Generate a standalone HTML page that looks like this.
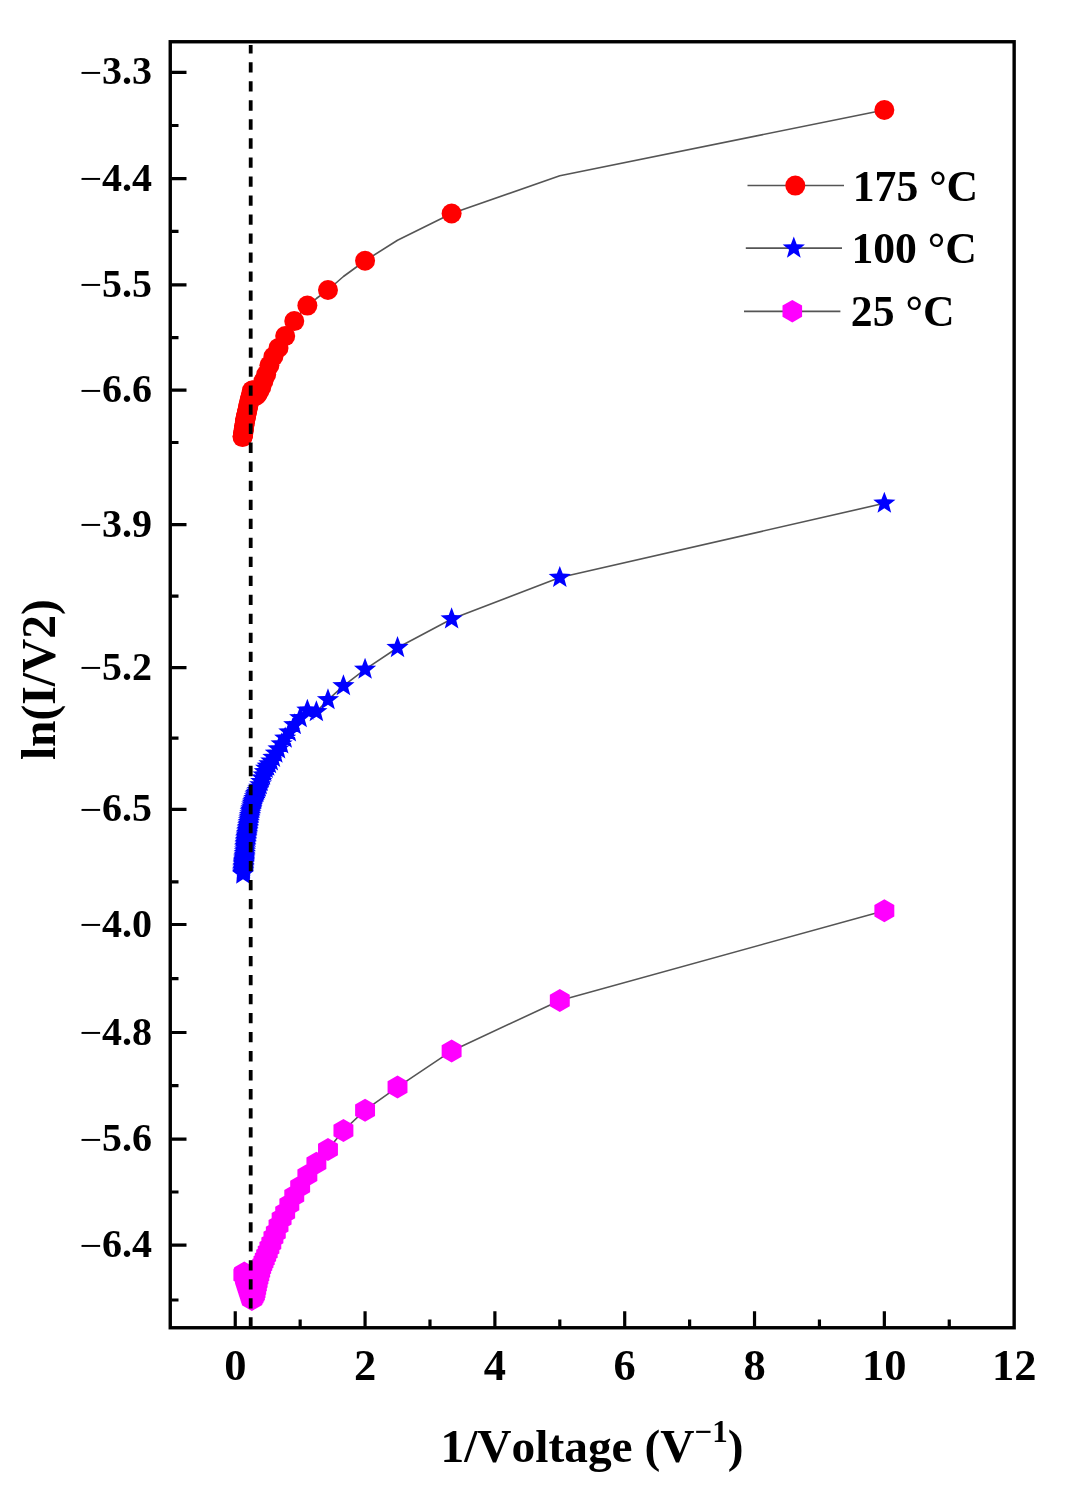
<!DOCTYPE html><html><head><meta charset="utf-8"><style>html,body{margin:0;padding:0;background:#fff;overflow:hidden;width:1072px;height:1489px}svg{display:block}text{font-family:"Liberation Serif","Times New Roman",serif;font-weight:bold;fill:#000;font-kerning:none}</style></head><body>
<svg width="1072" height="1489" viewBox="0 0 1072 1489">
<rect width="1072" height="1489" fill="#fff"/>
<polyline points="884.35,110.00 559.80,175.78 451.62,213.52 397.52,240.29 365.07,260.73 343.43,276.48 327.98,289.98 316.39,298.51 307.37,305.59 300.16,313.55 294.26,321.11 289.34,328.61 285.18,336.11 281.61,342.47 278.52,347.93 275.82,352.44 273.43,356.45 271.31,361.12 269.41,365.35 267.70,370.31 266.16,374.62 264.75,377.99 263.47,381.08 262.30,384.40 261.21,387.46 260.22,389.31 259.29,391.02 258.43,392.53 257.63,393.94 256.89,394.89 256.19,395.76 255.53,395.53 254.92,394.92 254.34,394.10 253.80,392.74 253.28,391.45 252.79,390.23 252.33,389.08 251.89,390.68 251.48,392.40 251.08,394.03 250.70,395.59 250.35,397.08 250.00,398.49 249.67,399.85 249.36,401.14 249.06,402.38 248.77,403.57 248.50,404.71 248.23,405.94 247.98,407.11 247.73,408.24 247.50,409.33 247.27,410.38 247.05,411.39 246.84,412.36 246.64,413.30 246.44,414.21 246.25,415.08 246.07,415.93 245.89,416.75 245.72,417.54 245.55,418.31 245.39,419.05 245.24,419.77 245.08,420.50 244.94,421.51 244.80,422.49 244.66,423.44 244.52,424.36 244.39,425.26 244.27,426.13 244.14,426.98 244.02,427.80 243.90,428.60 243.79,429.39 243.68,430.15 243.57,430.89 243.47,431.61 243.36,432.32 243.26,433.00 243.17,433.68 243.07,434.33 242.98,434.97 242.89,435.56 242.80,435.96 242.71,436.35 242.63,436.73 242.54,437.11" fill="none" stroke="#555555" stroke-width="1.6" stroke-linejoin="round"/>
<polyline points="884.35,503.30 559.80,577.56 451.62,618.99 397.52,647.73 365.07,669.39 343.43,685.92 327.98,699.86 316.39,711.81 307.37,710.33 300.16,717.93 294.26,724.91 289.34,732.18 285.18,738.24 281.61,744.08 278.52,749.02 275.82,753.26 273.43,757.52 271.31,761.14 269.41,763.94 267.70,766.32 266.16,768.48 264.75,771.83 263.47,775.06 262.30,778.16 261.21,781.64 260.22,784.86 259.29,787.25 258.43,789.03 257.63,790.69 256.89,792.23 256.19,793.68 255.53,795.10 254.92,796.96 254.34,798.72 253.80,800.38 253.28,801.94 252.79,803.42 252.33,805.23 251.89,807.04 251.48,808.76 251.08,810.40 250.70,811.97 250.35,813.78 250.00,815.65 249.67,817.43 249.36,819.14 249.06,820.77 248.77,822.53 248.50,824.26 248.23,825.93 247.98,827.53 247.73,829.07 247.50,830.59 247.27,832.11 247.05,833.57 246.84,834.98 246.64,836.34 246.44,837.65 246.25,839.02 246.07,840.62 245.89,842.16 245.72,843.65 245.55,845.10 245.39,846.50 245.24,848.10 245.08,850.00 244.94,851.85 244.80,853.64 244.66,855.38 244.52,856.85 244.39,858.11 244.27,859.34 244.14,860.53 244.02,861.69 243.90,862.82 243.79,863.92 243.68,865.07 243.57,866.54 243.47,867.97 243.36,869.36 243.26,870.72 243.17,872.05 243.07,873.34 242.98,874.30" fill="none" stroke="#555555" stroke-width="1.6" stroke-linejoin="round"/>
<polyline points="884.35,910.70 559.80,1000.47 451.62,1050.95 397.52,1087.08 365.07,1110.19 343.43,1130.50 327.98,1149.58 316.39,1163.20 307.37,1175.24 300.16,1186.54 294.26,1195.87 289.34,1204.41 285.18,1212.42 281.61,1218.87 278.52,1225.65 275.82,1232.47 273.43,1237.43 271.31,1243.20 269.41,1247.78 267.70,1251.88 266.16,1255.59 264.75,1258.96 263.47,1262.03 262.30,1264.85 261.21,1267.71 260.22,1271.53 259.29,1275.06 258.43,1278.35 257.63,1281.77 256.89,1285.37 256.19,1288.74 255.53,1291.90 254.92,1294.34 254.34,1295.42 253.80,1296.44 253.28,1297.40 252.79,1298.32 252.33,1299.18 251.89,1299.47 251.48,1298.17 251.08,1296.94 250.70,1295.77 250.35,1294.65 250.00,1293.58 249.67,1292.56 249.36,1291.58 249.06,1290.65 248.77,1289.75 248.50,1288.89 248.23,1288.07 247.98,1287.27 247.73,1286.51 247.50,1285.78 247.27,1285.07 247.05,1284.39 246.84,1283.73 246.64,1283.10 246.44,1282.49 246.25,1281.90 246.07,1281.33 245.89,1280.77 245.72,1280.24 245.55,1279.72 245.39,1279.22 245.24,1278.74 245.08,1278.26 244.94,1277.56 244.80,1276.54 244.66,1275.55 244.52,1274.59 244.39,1273.66 244.27,1273.08 244.14,1273.35 244.02,1273.62 243.90,1273.88 243.79,1274.13 243.68,1274.38 243.57,1274.62 243.47,1274.85 243.36,1275.00" fill="none" stroke="#555555" stroke-width="1.6" stroke-linejoin="round"/>
<g fill="#ff0000"><circle cx="884.35" cy="110.00" r="10"/><circle cx="451.62" cy="213.52" r="10"/><circle cx="365.07" cy="260.73" r="10"/><circle cx="327.98" cy="289.98" r="10"/><circle cx="307.37" cy="305.59" r="10"/><circle cx="294.26" cy="321.11" r="10"/><circle cx="285.18" cy="336.11" r="10"/><circle cx="278.52" cy="347.93" r="10"/><circle cx="273.43" cy="356.45" r="10"/><circle cx="269.41" cy="365.35" r="10"/><circle cx="266.16" cy="374.62" r="10"/><circle cx="263.47" cy="381.08" r="10"/><circle cx="261.21" cy="387.46" r="10"/><circle cx="259.29" cy="391.02" r="10"/><circle cx="257.63" cy="393.94" r="10"/><circle cx="256.19" cy="395.76" r="10"/><circle cx="254.92" cy="394.92" r="10"/><circle cx="253.80" cy="392.74" r="10"/><circle cx="252.79" cy="390.23" r="10"/><circle cx="251.89" cy="390.68" r="10"/><circle cx="251.08" cy="394.03" r="10"/><circle cx="250.35" cy="397.08" r="10"/><circle cx="249.67" cy="399.85" r="10"/><circle cx="249.06" cy="402.38" r="10"/><circle cx="248.50" cy="404.71" r="10"/><circle cx="247.98" cy="407.11" r="10"/><circle cx="247.50" cy="409.33" r="10"/><circle cx="247.05" cy="411.39" r="10"/><circle cx="246.64" cy="413.30" r="10"/><circle cx="246.25" cy="415.08" r="10"/><circle cx="245.89" cy="416.75" r="10"/><circle cx="245.55" cy="418.31" r="10"/><circle cx="245.24" cy="419.77" r="10"/><circle cx="244.94" cy="421.51" r="10"/><circle cx="244.66" cy="423.44" r="10"/><circle cx="244.39" cy="425.26" r="10"/><circle cx="244.14" cy="426.98" r="10"/><circle cx="243.90" cy="428.60" r="10"/><circle cx="243.68" cy="430.15" r="10"/><circle cx="243.47" cy="431.61" r="10"/><circle cx="243.26" cy="433.00" r="10"/><circle cx="243.07" cy="434.33" r="10"/><circle cx="242.89" cy="435.56" r="10"/><circle cx="242.71" cy="436.35" r="10"/><circle cx="242.54" cy="437.11" r="10"/></g>
<path fill="#0000ff" d="M884.35,491.64L887.23,499.34L895.44,499.70L889.01,504.81L891.20,512.73L884.35,508.20L877.50,512.73L879.69,504.81L873.26,499.70L881.47,499.34ZM559.80,565.90L562.68,573.60L570.89,573.96L564.46,579.08L566.65,587.00L559.80,582.46L552.95,587.00L555.14,579.08L548.71,573.96L556.92,573.60ZM451.62,607.33L454.50,615.02L462.71,615.38L456.27,620.50L458.47,628.42L451.62,623.88L444.76,628.42L446.96,620.50L440.53,615.38L448.74,615.02ZM397.52,636.07L400.40,643.76L408.61,644.12L402.18,649.24L404.38,657.16L397.52,652.62L390.67,657.16L392.87,649.24L386.44,644.12L394.65,643.76ZM365.07,657.73L367.95,665.42L376.16,665.78L369.73,670.90L371.92,678.82L365.07,674.28L358.22,678.82L360.41,670.90L353.98,665.78L362.19,665.42ZM343.43,674.26L346.31,681.96L354.52,682.32L348.09,687.43L350.29,695.35L343.43,690.82L336.58,695.35L338.78,687.43L332.34,682.32L340.55,681.96ZM327.98,688.20L330.86,695.90L339.07,696.25L332.64,701.37L334.83,709.29L327.98,704.76L321.12,709.29L323.32,701.37L316.89,696.25L325.10,695.90ZM316.39,700.15L319.27,707.84L327.48,708.20L321.05,713.32L323.24,721.24L316.39,716.70L309.53,721.24L311.73,713.32L305.30,708.20L313.51,707.84ZM307.37,698.67L310.25,706.37L318.46,706.73L312.03,711.85L314.23,719.77L307.37,715.23L300.52,719.77L302.71,711.85L296.28,706.73L304.49,706.37ZM300.16,706.27L303.04,713.97L311.25,714.33L304.82,719.45L307.01,727.37L300.16,722.83L293.31,727.37L295.50,719.45L289.07,714.33L297.28,713.97ZM294.26,713.25L297.14,720.95L305.35,721.31L298.92,726.43L301.11,734.34L294.26,729.81L287.41,734.34L289.60,726.43L283.17,721.31L291.38,720.95ZM289.34,720.52L292.22,728.22L300.43,728.58L294.00,733.70L296.20,741.62L289.34,737.08L282.49,741.62L284.68,733.70L278.25,728.58L286.46,728.22ZM285.18,726.58L288.06,734.28L296.27,734.63L289.84,739.75L292.03,747.67L285.18,743.13L278.33,747.67L280.52,739.75L274.09,734.63L282.30,734.28ZM281.61,732.42L284.49,740.12L292.70,740.48L286.27,745.60L288.47,753.51L281.61,748.98L274.76,753.51L276.96,745.60L270.52,740.48L278.74,740.12ZM278.52,737.36L281.40,745.06L289.61,745.42L283.18,750.53L285.38,758.45L278.52,753.92L271.67,758.45L273.87,750.53L267.43,745.42L275.64,745.06ZM275.82,741.60L278.70,749.30L286.91,749.65L280.48,754.77L282.67,762.69L275.82,758.15L268.97,762.69L271.16,754.77L264.73,749.65L272.94,749.30ZM273.43,745.86L276.31,753.56L284.52,753.92L278.09,759.03L280.29,766.95L273.43,762.42L266.58,766.95L268.77,759.03L262.34,753.92L270.55,753.56ZM271.31,749.48L274.19,757.18L282.40,757.54L275.97,762.65L278.16,770.57L271.31,766.04L264.46,770.57L266.65,762.65L260.22,757.54L268.43,757.18ZM269.41,752.28L272.29,759.97L280.50,760.33L274.07,765.45L276.27,773.37L269.41,768.83L262.56,773.37L264.76,765.45L258.32,760.33L266.53,759.97ZM267.70,754.66L270.58,762.36L278.79,762.72L272.36,767.83L274.56,775.75L267.70,771.22L260.85,775.75L263.05,767.83L256.62,762.72L264.83,762.36ZM266.16,756.82L269.04,764.52L277.25,764.87L270.82,769.99L273.01,777.91L266.16,773.37L259.31,777.91L261.50,769.99L255.07,764.87L263.28,764.52ZM264.75,760.17L267.63,767.87L275.84,768.23L269.41,773.34L271.61,781.26L264.75,776.73L257.90,781.26L260.10,773.34L253.67,768.23L261.88,767.87ZM263.47,763.40L266.35,771.09L274.56,771.45L268.13,776.57L270.33,784.49L263.47,779.95L256.62,784.49L258.81,776.57L252.38,771.45L260.59,771.09ZM262.30,766.50L265.17,774.20L273.39,774.55L266.95,779.67L269.15,787.59L262.30,783.06L255.44,787.59L257.64,779.67L251.21,774.55L259.42,774.20ZM261.21,769.98L264.09,777.68L272.30,778.04L265.87,783.16L268.07,791.08L261.21,786.54L254.36,791.08L256.56,783.16L250.12,778.04L258.34,777.68ZM260.22,773.20L263.09,780.90L271.30,781.26L264.87,786.37L267.07,794.29L260.22,789.76L253.36,794.29L255.56,786.37L249.13,781.26L257.34,780.90ZM259.29,775.59L262.17,783.29L270.38,783.65L263.95,788.77L266.14,796.69L259.29,792.15L252.44,796.69L254.63,788.77L248.20,783.65L256.41,783.29ZM258.43,777.37L261.31,785.07L269.52,785.43L263.09,790.55L265.29,798.47L258.43,793.93L251.58,798.47L253.77,790.55L247.34,785.43L255.55,785.07ZM257.63,779.03L260.51,786.73L268.72,787.09L262.29,792.20L264.49,800.12L257.63,795.59L250.78,800.12L252.98,792.20L246.54,787.09L254.75,786.73ZM256.89,780.57L259.77,788.27L267.98,788.63L261.54,793.75L263.74,801.67L256.89,797.13L250.03,801.67L252.23,793.75L245.80,788.63L254.01,788.27ZM256.19,782.02L259.07,789.72L267.28,790.08L260.85,795.19L263.04,803.11L256.19,798.58L249.34,803.11L251.53,795.19L245.10,790.08L253.31,789.72ZM255.53,783.44L258.41,791.14L266.62,791.50L260.19,796.61L262.39,804.53L255.53,800.00L248.68,804.53L250.88,796.61L244.45,791.50L252.66,791.14ZM254.92,785.30L257.80,793.00L266.01,793.36L259.58,798.48L261.77,806.40L254.92,801.86L248.07,806.40L250.26,798.48L243.83,793.36L252.04,793.00ZM254.34,787.06L257.22,794.76L265.43,795.12L259.00,800.23L261.19,808.15L254.34,803.62L247.49,808.15L249.68,800.23L243.25,795.12L251.46,794.76ZM253.80,788.72L256.67,796.41L264.89,796.77L258.45,801.89L260.65,809.81L253.80,805.27L246.94,809.81L249.14,801.89L242.71,796.77L250.92,796.41ZM253.28,790.28L256.16,797.98L264.37,798.34L257.94,803.45L260.13,811.37L253.28,806.84L246.43,811.37L248.62,803.45L242.19,798.34L250.40,797.98ZM252.79,791.76L255.67,799.46L263.88,799.81L257.45,804.93L259.65,812.85L252.79,808.31L245.94,812.85L248.14,804.93L241.70,799.81L249.91,799.46ZM252.33,793.57L255.21,801.26L263.42,801.62L256.99,806.74L259.19,814.66L252.33,810.12L245.48,814.66L247.67,806.74L241.24,801.62L249.45,801.26ZM251.89,795.38L254.77,803.08L262.98,803.44L256.55,808.55L258.75,816.47L251.89,811.94L245.04,816.47L247.24,808.55L240.80,803.44L249.02,803.08ZM251.48,797.10L254.36,804.80L262.57,805.16L256.14,810.28L258.33,818.20L251.48,813.66L244.62,818.20L246.82,810.28L240.39,805.16L248.60,804.80ZM251.08,798.74L253.96,806.44L262.17,806.80L255.74,811.92L257.94,819.84L251.08,815.30L244.23,819.84L246.42,811.92L239.99,806.80L248.20,806.44ZM250.70,800.31L253.58,808.00L261.79,808.36L255.36,813.48L257.56,821.40L250.70,816.86L243.85,821.40L246.05,813.48L239.62,808.36L247.83,808.00ZM250.35,802.12L253.22,809.82L261.43,810.18L255.00,815.30L257.20,823.22L250.35,818.68L243.49,823.22L245.69,815.30L239.26,810.18L247.47,809.82ZM250.00,803.99L252.88,811.69L261.09,812.05L254.66,817.16L256.86,825.08L250.00,820.55L243.15,825.08L245.34,817.16L238.91,812.05L247.12,811.69ZM249.67,805.77L252.55,813.47L260.76,813.83L254.33,818.95L256.53,826.87L249.67,822.33L242.82,826.87L245.02,818.95L238.59,813.83L246.80,813.47ZM249.36,807.48L252.24,815.18L260.45,815.53L254.02,820.65L256.21,828.57L249.36,824.03L242.51,828.57L244.70,820.65L238.27,815.53L246.48,815.18ZM249.06,809.11L251.94,816.81L260.15,817.17L253.72,822.28L255.91,830.20L249.06,825.67L242.21,830.20L244.40,822.28L237.97,817.17L246.18,816.81ZM248.77,810.87L251.65,818.57L259.86,818.92L253.43,824.04L255.63,831.96L248.77,827.42L241.92,831.96L244.12,824.04L237.68,818.92L245.89,818.57ZM248.50,812.60L251.38,820.30L259.59,820.66L253.15,825.78L255.35,833.70L248.50,829.16L241.64,833.70L243.84,825.78L237.41,820.66L245.62,820.30ZM248.23,814.27L251.11,821.97L259.32,822.32L252.89,827.44L255.09,835.36L248.23,830.82L241.38,835.36L243.57,827.44L237.14,822.32L245.35,821.97ZM247.98,815.87L250.86,823.57L259.07,823.92L252.63,829.04L254.83,836.96L247.98,832.42L241.12,836.96L243.32,829.04L236.89,823.92L245.10,823.57ZM247.73,817.41L250.61,825.10L258.82,825.46L252.39,830.58L254.59,838.50L247.73,833.96L240.88,838.50L243.08,830.58L236.64,825.46L244.85,825.10ZM247.50,818.93L250.38,826.63L258.59,826.99L252.15,832.10L254.35,840.02L247.50,835.49L240.64,840.02L242.84,832.10L236.41,826.99L244.62,826.63ZM247.27,820.45L250.15,828.14L258.36,828.50L251.93,833.62L254.12,841.54L247.27,837.00L240.42,841.54L242.61,833.62L236.18,828.50L244.39,828.14ZM247.05,821.91L249.93,829.61L258.14,829.97L251.71,835.08L253.91,843.00L247.05,838.47L240.20,843.00L242.39,835.08L235.96,829.97L244.17,829.61ZM246.84,823.32L249.72,831.02L257.93,831.38L251.50,836.49L253.69,844.41L246.84,839.88L239.99,844.41L242.18,836.49L235.75,831.38L243.96,831.02ZM246.64,824.68L249.52,832.38L257.73,832.74L251.30,837.85L253.49,845.77L246.64,841.24L239.78,845.77L241.98,837.85L235.55,832.74L243.76,832.38ZM246.44,825.99L249.32,833.69L257.53,834.05L251.10,839.17L253.29,847.09L246.44,842.55L239.59,847.09L241.78,839.17L235.35,834.05L243.56,833.69ZM246.25,827.36L249.13,835.06L257.34,835.42L250.91,840.53L253.11,848.45L246.25,843.92L239.40,848.45L241.59,840.53L235.16,835.42L243.37,835.06ZM246.07,828.96L248.95,836.65L257.16,837.01L250.73,842.13L252.92,850.05L246.07,845.51L239.21,850.05L241.41,842.13L234.98,837.01L243.19,836.65ZM245.89,830.50L248.77,838.20L256.98,838.56L250.55,843.67L252.74,851.59L245.89,847.06L239.04,851.59L241.23,843.67L234.80,838.56L243.01,838.20ZM245.72,831.99L248.60,839.69L256.81,840.05L250.38,845.16L252.57,853.08L245.72,848.55L238.87,853.08L241.06,845.16L234.63,840.05L242.84,839.69ZM245.55,833.44L248.43,841.14L256.64,841.49L250.21,846.61L252.41,854.53L245.55,849.99L238.70,854.53L240.90,846.61L234.46,841.49L242.67,841.14ZM245.39,834.84L248.27,842.54L256.48,842.89L250.05,848.01L252.25,855.93L245.39,851.40L238.54,855.93L240.73,848.01L234.30,842.89L242.51,842.54ZM245.24,836.44L248.11,844.14L256.33,844.50L249.89,849.62L252.09,857.54L245.24,853.00L238.38,857.54L240.58,849.62L234.15,844.50L242.36,844.14ZM245.08,838.34L247.96,846.04L256.17,846.40L249.74,851.52L251.94,859.44L245.08,854.90L238.23,859.44L240.43,851.52L234.00,846.40L242.21,846.04ZM244.94,840.19L247.82,847.89L256.03,848.25L249.60,853.36L251.79,861.28L244.94,856.75L238.08,861.28L240.28,853.36L233.85,848.25L242.06,847.89ZM244.80,841.98L247.67,849.68L255.88,850.04L249.45,855.15L251.65,863.07L244.80,858.54L237.94,863.07L240.14,855.15L233.71,850.04L241.92,849.68ZM244.66,843.72L247.54,851.42L255.75,851.78L249.31,856.89L251.51,864.81L244.66,860.28L237.80,864.81L240.00,856.89L233.57,851.78L241.78,851.42ZM244.52,845.19L247.40,852.88L255.61,853.24L249.18,858.36L251.38,866.28L244.52,861.74L237.67,866.28L239.87,858.36L233.43,853.24L241.64,852.88ZM244.39,846.45L247.27,854.15L255.48,854.51L249.05,859.62L251.25,867.54L244.39,863.01L237.54,867.54L239.73,859.62L233.30,854.51L241.51,854.15ZM244.27,847.68L247.14,855.37L255.35,855.73L248.92,860.85L251.12,868.77L244.27,864.23L237.41,868.77L239.61,860.85L233.18,855.73L241.39,855.37ZM244.14,848.87L247.02,856.57L255.23,856.93L248.80,862.04L251.00,869.96L244.14,865.43L237.29,869.96L239.48,862.04L233.05,856.93L241.26,856.57ZM244.02,850.03L246.90,857.73L255.11,858.09L248.68,863.20L250.88,871.12L244.02,866.59L237.17,871.12L239.36,863.20L232.93,858.09L241.14,857.73ZM243.90,851.16L246.78,858.86L254.99,859.22L248.56,864.33L250.76,872.25L243.90,867.72L237.05,872.25L239.25,864.33L232.82,859.22L241.03,858.86ZM243.79,852.26L246.67,859.96L254.88,860.32L248.45,865.44L250.64,873.36L243.79,868.82L236.94,873.36L239.13,865.44L232.70,860.32L240.91,859.96ZM243.68,853.41L246.56,861.11L254.77,861.47L248.34,866.59L250.53,874.51L243.68,869.97L236.83,874.51L239.02,866.59L232.59,861.47L240.80,861.11ZM243.57,854.88L246.45,862.58L254.66,862.94L248.23,868.05L250.43,875.97L243.57,871.44L236.72,875.97L238.91,868.05L232.48,862.94L240.69,862.58ZM243.47,856.31L246.34,864.01L254.56,864.37L248.12,869.48L250.32,877.40L243.47,872.87L236.61,877.40L238.81,869.48L232.38,864.37L240.59,864.01ZM243.36,857.70L246.24,865.40L254.45,865.76L248.02,870.88L250.22,878.80L243.36,874.26L236.51,878.80L238.71,870.88L232.27,865.76L240.49,865.40ZM243.26,859.06L246.14,866.76L254.35,867.12L247.92,872.24L250.12,880.16L243.26,875.62L236.41,880.16L238.61,872.24L232.17,867.12L240.39,866.76ZM243.17,860.39L246.04,868.09L254.26,868.45L247.82,873.56L250.02,881.48L243.17,876.95L236.31,881.48L238.51,873.56L232.08,868.45L240.29,868.09ZM243.07,861.68L245.95,869.38L254.16,869.74L247.73,874.86L249.92,882.78L243.07,878.24L236.22,882.78L238.41,874.86L231.98,869.74L240.19,869.38ZM242.98,862.64L245.86,870.34L254.07,870.70L247.63,875.81L249.83,883.73L242.98,879.20L236.12,883.73L238.32,875.81L231.89,870.70L240.10,870.34Z"/>
<path fill="#ff00ff" d="M884.35,899.20L894.31,904.95L894.31,916.45L884.35,922.20L874.39,916.45L874.39,904.95ZM559.80,988.97L569.76,994.72L569.76,1006.22L559.80,1011.97L549.84,1006.22L549.84,994.72ZM451.62,1039.45L461.58,1045.20L461.58,1056.70L451.62,1062.45L441.66,1056.70L441.66,1045.20ZM397.52,1075.58L407.48,1081.33L407.48,1092.83L397.52,1098.58L387.57,1092.83L387.57,1081.33ZM365.07,1098.69L375.03,1104.44L375.03,1115.94L365.07,1121.69L355.11,1115.94L355.11,1104.44ZM343.43,1119.00L353.39,1124.75L353.39,1136.25L343.43,1142.00L333.47,1136.25L333.47,1124.75ZM327.98,1138.08L337.94,1143.83L337.94,1155.33L327.98,1161.08L318.02,1155.33L318.02,1143.83ZM316.39,1151.70L326.35,1157.45L326.35,1168.95L316.39,1174.70L306.43,1168.95L306.43,1157.45ZM307.37,1163.74L317.33,1169.49L317.33,1180.99L307.37,1186.74L297.41,1180.99L297.41,1169.49ZM300.16,1175.04L310.12,1180.79L310.12,1192.29L300.16,1198.04L290.20,1192.29L290.20,1180.79ZM294.26,1184.37L304.22,1190.12L304.22,1201.62L294.26,1207.37L284.30,1201.62L284.30,1190.12ZM289.34,1192.91L299.30,1198.66L299.30,1210.16L289.34,1215.91L279.38,1210.16L279.38,1198.66ZM285.18,1200.92L295.14,1206.67L295.14,1218.17L285.18,1223.92L275.22,1218.17L275.22,1206.67ZM281.61,1207.37L291.57,1213.12L291.57,1224.62L281.61,1230.37L271.65,1224.62L271.65,1213.12ZM278.52,1214.15L288.48,1219.90L288.48,1231.40L278.52,1237.15L268.56,1231.40L268.56,1219.90ZM275.82,1220.97L285.78,1226.72L285.78,1238.22L275.82,1243.97L265.86,1238.22L265.86,1226.72ZM273.43,1225.93L283.39,1231.68L283.39,1243.18L273.43,1248.93L263.47,1243.18L263.47,1231.68ZM271.31,1231.70L281.27,1237.45L281.27,1248.95L271.31,1254.70L261.35,1248.95L261.35,1237.45ZM269.41,1236.28L279.37,1242.03L279.37,1253.53L269.41,1259.28L259.45,1253.53L259.45,1242.03ZM267.70,1240.38L277.66,1246.13L277.66,1257.63L267.70,1263.38L257.75,1257.63L257.75,1246.13ZM266.16,1244.09L276.12,1249.84L276.12,1261.34L266.16,1267.09L256.20,1261.34L256.20,1249.84ZM264.75,1247.46L274.71,1253.21L274.71,1264.71L264.75,1270.46L254.80,1264.71L254.80,1253.21ZM263.47,1250.53L273.43,1256.28L273.43,1267.78L263.47,1273.53L253.51,1267.78L253.51,1256.28ZM262.30,1253.35L272.26,1259.10L272.26,1270.60L262.30,1276.35L252.34,1270.60L252.34,1259.10ZM261.21,1256.21L271.17,1261.96L271.17,1273.46L261.21,1279.21L251.25,1273.46L251.25,1261.96ZM260.22,1260.03L270.17,1265.78L270.17,1277.28L260.22,1283.03L250.26,1277.28L250.26,1265.78ZM259.29,1263.56L269.25,1269.31L269.25,1280.81L259.29,1286.56L249.33,1280.81L249.33,1269.31ZM258.43,1266.85L268.39,1272.60L268.39,1284.10L258.43,1289.85L248.47,1284.10L248.47,1272.60ZM257.63,1270.27L267.59,1276.02L267.59,1287.52L257.63,1293.27L247.67,1287.52L247.67,1276.02ZM256.89,1273.87L266.85,1279.62L266.85,1291.12L256.89,1296.87L246.93,1291.12L246.93,1279.62ZM256.19,1277.24L266.15,1282.99L266.15,1294.49L256.19,1300.24L246.23,1294.49L246.23,1282.99ZM255.53,1280.40L265.49,1286.15L265.49,1297.65L255.53,1303.40L245.58,1297.65L245.58,1286.15ZM254.92,1282.84L264.88,1288.59L264.88,1300.09L254.92,1305.84L244.96,1300.09L244.96,1288.59ZM254.34,1283.92L264.30,1289.67L264.30,1301.17L254.34,1306.92L244.38,1301.17L244.38,1289.67ZM253.80,1284.94L263.76,1290.69L263.76,1302.19L253.80,1307.94L243.84,1302.19L243.84,1290.69ZM253.28,1285.90L263.24,1291.65L263.24,1303.15L253.28,1308.90L243.32,1303.15L243.32,1291.65ZM252.79,1286.82L262.75,1292.57L262.75,1304.07L252.79,1309.82L242.83,1304.07L242.83,1292.57ZM252.33,1287.68L262.29,1293.43L262.29,1304.93L252.33,1310.68L242.37,1304.93L242.37,1293.43ZM251.89,1287.97L261.85,1293.72L261.85,1305.22L251.89,1310.97L241.93,1305.22L241.93,1293.72ZM251.48,1286.67L261.44,1292.42L261.44,1303.92L251.48,1309.67L241.52,1303.92L241.52,1292.42ZM251.08,1285.44L261.04,1291.19L261.04,1302.69L251.08,1308.44L241.12,1302.69L241.12,1291.19ZM250.70,1284.27L260.66,1290.02L260.66,1301.52L250.70,1307.27L240.75,1301.52L240.75,1290.02ZM250.35,1283.15L260.30,1288.90L260.30,1300.40L250.35,1306.15L240.39,1300.40L240.39,1288.90ZM250.00,1282.08L259.96,1287.83L259.96,1299.33L250.00,1305.08L240.04,1299.33L240.04,1287.83ZM249.67,1281.06L259.63,1286.81L259.63,1298.31L249.67,1304.06L239.72,1298.31L239.72,1286.81ZM249.36,1280.08L259.32,1285.83L259.32,1297.33L249.36,1303.08L239.40,1297.33L239.40,1285.83ZM249.06,1279.15L259.02,1284.90L259.02,1296.40L249.06,1302.15L239.10,1296.40L239.10,1284.90ZM248.77,1278.25L258.73,1284.00L258.73,1295.50L248.77,1301.25L238.81,1295.50L238.81,1284.00ZM248.50,1277.39L258.46,1283.14L258.46,1294.64L248.50,1300.39L238.54,1294.64L238.54,1283.14ZM248.23,1276.57L258.19,1282.32L258.19,1293.82L248.23,1299.57L238.27,1293.82L238.27,1282.32ZM247.98,1275.77L257.94,1281.52L257.94,1293.02L247.98,1298.77L238.02,1293.02L238.02,1281.52ZM247.73,1275.01L257.69,1280.76L257.69,1292.26L247.73,1298.01L237.77,1292.26L237.77,1280.76ZM247.50,1274.28L257.46,1280.03L257.46,1291.53L247.50,1297.28L237.54,1291.53L237.54,1280.03ZM247.27,1273.57L257.23,1279.32L257.23,1290.82L247.27,1296.57L237.31,1290.82L237.31,1279.32ZM247.05,1272.89L257.01,1278.64L257.01,1290.14L247.05,1295.89L237.09,1290.14L237.09,1278.64ZM246.84,1272.23L256.80,1277.98L256.80,1289.48L246.84,1295.23L236.88,1289.48L236.88,1277.98ZM246.64,1271.60L256.60,1277.35L256.60,1288.85L246.64,1294.60L236.68,1288.85L236.68,1277.35ZM246.44,1270.99L256.40,1276.74L256.40,1288.24L246.44,1293.99L236.48,1288.24L236.48,1276.74ZM246.25,1270.40L256.21,1276.15L256.21,1287.65L246.25,1293.40L236.29,1287.65L236.29,1276.15ZM246.07,1269.83L256.03,1275.58L256.03,1287.08L246.07,1292.83L236.11,1287.08L236.11,1275.58ZM245.89,1269.27L255.85,1275.02L255.85,1286.52L245.89,1292.27L235.93,1286.52L235.93,1275.02ZM245.72,1268.74L255.68,1274.49L255.68,1285.99L245.72,1291.74L235.76,1285.99L235.76,1274.49ZM245.55,1268.22L255.51,1273.97L255.51,1285.47L245.55,1291.22L235.59,1285.47L235.59,1273.97ZM245.39,1267.72L255.35,1273.47L255.35,1284.97L245.39,1290.72L235.43,1284.97L235.43,1273.47ZM245.24,1267.24L255.20,1272.99L255.20,1284.49L245.24,1290.24L235.28,1284.49L235.28,1272.99ZM245.08,1266.76L255.04,1272.51L255.04,1284.01L245.08,1289.76L235.13,1284.01L235.13,1272.51ZM244.94,1266.06L254.90,1271.81L254.90,1283.31L244.94,1289.06L234.98,1283.31L234.98,1271.81ZM244.80,1265.04L254.75,1270.79L254.75,1282.29L244.80,1288.04L234.84,1282.29L234.84,1270.79ZM244.66,1264.05L254.62,1269.80L254.62,1281.30L244.66,1287.05L234.70,1281.30L234.70,1269.80ZM244.52,1263.09L254.48,1268.84L254.48,1280.34L244.52,1286.09L234.56,1280.34L234.56,1268.84ZM244.39,1262.16L254.35,1267.91L254.35,1279.41L244.39,1285.16L234.43,1279.41L234.43,1267.91ZM244.27,1261.58L254.22,1267.33L254.22,1278.83L244.27,1284.58L234.31,1278.83L234.31,1267.33ZM244.14,1261.85L254.10,1267.60L254.10,1279.10L244.14,1284.85L234.18,1279.10L234.18,1267.60ZM244.02,1262.12L253.98,1267.87L253.98,1279.37L244.02,1285.12L234.06,1279.37L234.06,1267.87ZM243.90,1262.38L253.86,1268.13L253.86,1279.63L243.90,1285.38L233.95,1279.63L233.95,1268.13ZM243.79,1262.63L253.75,1268.38L253.75,1279.88L243.79,1285.63L233.83,1279.88L233.83,1268.38ZM243.68,1262.88L253.64,1268.63L253.64,1280.13L243.68,1285.88L233.72,1280.13L233.72,1268.63ZM243.57,1263.12L253.53,1268.87L253.53,1280.37L243.57,1286.12L233.61,1280.37L233.61,1268.87ZM243.47,1263.35L253.43,1269.10L253.43,1280.60L243.47,1286.35L233.51,1280.60L233.51,1269.10ZM243.36,1263.50L253.32,1269.25L253.32,1280.75L243.36,1286.50L233.40,1280.75L233.40,1269.25Z"/>
<line x1="250.7" y1="44.9" x2="250.7" y2="1326" stroke="#000" stroke-width="3.8" stroke-dasharray="10.3 8.715" stroke-dashoffset="1.615"/>
<rect x="170.25" y="41.75" width="843.9" height="1286" fill="none" stroke="#000" stroke-width="3.4"/>
<path d="M171.5,72.3H186.5M171.5,178.7H186.5M171.5,284.8H186.5M171.5,390.2H186.5M171.5,524.6H186.5M171.5,667.7H186.5M171.5,809.4H186.5M171.5,924.5H186.5M171.5,1032.5H186.5M171.5,1139.2H186.5M171.5,1245.2H186.5M171.5,125.5H178.5M171.5,231.3H178.5M171.5,337.6H178.5M171.5,442.5H178.5M171.5,596.1H178.5M171.5,738.2H178.5M171.5,881.9H178.5M171.5,978.6H178.5M171.5,1085.7H178.5M171.5,1192H178.5M171.5,1300H178.5M235.25,1326.5V1311.2M300.16,1326.5V1319.5M365.07,1326.5V1311.2M429.98,1326.5V1319.5M494.89,1326.5V1311.2M559.80,1326.5V1319.5M624.71,1326.5V1311.2M689.62,1326.5V1319.5M754.53,1326.5V1311.2M819.44,1326.5V1319.5M884.35,1326.5V1311.2M949.26,1326.5V1319.5" stroke="#000" stroke-width="3.2" fill="none"/>
<text x="152" y="84.3" font-size="40" text-anchor="end"><tspan font-weight="normal" dy="1.3">−</tspan><tspan dy="-1.3">3.3</tspan></text>
<text x="152" y="190.7" font-size="40" text-anchor="end"><tspan font-weight="normal" dy="1.3">−</tspan><tspan dy="-1.3">4.4</tspan></text>
<text x="152" y="296.8" font-size="40" text-anchor="end"><tspan font-weight="normal" dy="1.3">−</tspan><tspan dy="-1.3">5.5</tspan></text>
<text x="152" y="402.2" font-size="40" text-anchor="end"><tspan font-weight="normal" dy="1.3">−</tspan><tspan dy="-1.3">6.6</tspan></text>
<text x="152" y="536.6" font-size="40" text-anchor="end"><tspan font-weight="normal" dy="1.3">−</tspan><tspan dy="-1.3">3.9</tspan></text>
<text x="152" y="679.7" font-size="40" text-anchor="end"><tspan font-weight="normal" dy="1.3">−</tspan><tspan dy="-1.3">5.2</tspan></text>
<text x="152" y="821.4" font-size="40" text-anchor="end"><tspan font-weight="normal" dy="1.3">−</tspan><tspan dy="-1.3">6.5</tspan></text>
<text x="152" y="936.5" font-size="40" text-anchor="end"><tspan font-weight="normal" dy="1.3">−</tspan><tspan dy="-1.3">4.0</tspan></text>
<text x="152" y="1044.5" font-size="40" text-anchor="end"><tspan font-weight="normal" dy="1.3">−</tspan><tspan dy="-1.3">4.8</tspan></text>
<text x="152" y="1151.2" font-size="40" text-anchor="end"><tspan font-weight="normal" dy="1.3">−</tspan><tspan dy="-1.3">5.6</tspan></text>
<text x="152" y="1257.2" font-size="40" text-anchor="end"><tspan font-weight="normal" dy="1.3">−</tspan><tspan dy="-1.3">6.4</tspan></text>
<text x="235.25" y="1380" font-size="44.5" text-anchor="middle">0</text>
<text x="365.07" y="1380" font-size="44.5" text-anchor="middle">2</text>
<text x="494.89" y="1380" font-size="44.5" text-anchor="middle">4</text>
<text x="624.71" y="1380" font-size="44.5" text-anchor="middle">6</text>
<text x="754.53" y="1380" font-size="44.5" text-anchor="middle">8</text>
<text x="884.35" y="1380" font-size="44.5" text-anchor="middle">10</text>
<text x="1014.17" y="1380" font-size="44.5" text-anchor="middle">12</text>
<text transform="translate(54.5,679.6) rotate(-90)" font-size="47.5" text-anchor="middle">ln(I/V2)</text>
<text x="440.5" y="1461.8" font-size="47.4">1/Voltage (V<tspan font-size="31" dy="-19.5">−1</tspan><tspan dy="19.5">)</tspan></text>
<path d="M747.5,185.5H844M745.8,248.1H842M744,311.4H840.4" stroke="#555555" stroke-width="1.6"/>
<circle cx="795.3" cy="185.6" r="10" fill="#ff0000"/>
<path fill="#0000ff" d="M793.80,236.50L796.69,244.22L804.93,244.58L798.47,249.72L800.68,257.67L793.80,253.11L786.92,257.67L789.13,249.72L782.67,244.58L790.91,244.22Z"/>
<path fill="#ff00ff" d="M792.30,299.90L802.09,305.55L802.09,316.85L792.30,322.50L782.51,316.85L782.51,305.55Z"/>
<text x="852.7" y="200.5" font-size="43.7">175 °C</text>
<text x="851.4" y="262.6" font-size="43.7">100 °C</text>
<text x="850.8" y="326" font-size="43.7">25 °C</text>
</svg></body></html>
